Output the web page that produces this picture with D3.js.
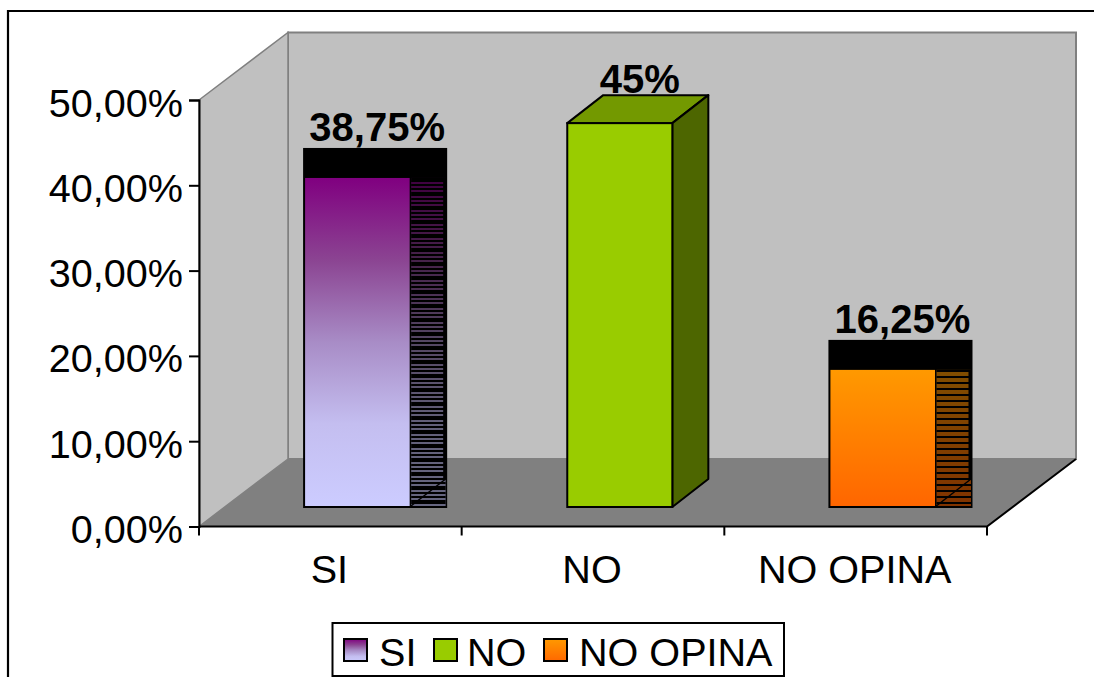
<!DOCTYPE html>
<html>
<head>
<meta charset="utf-8">
<script src="https://cdn.jsdelivr.net/npm/d3@7/dist/d3.min.js"></script>
<style>
  html, body { margin: 0; padding: 0; background: #fff; }
  svg { display: block; }
  text { font-family: "Liberation Sans", Arial, sans-serif; fill: #000; }
</style>
</head>
<body>
<svg id="chart" width="1094" height="677"></svg>
<script>
// Survey answers, in percent
const categories = ["SI", "NO", "NO OPINA"];
const values = [38.75, 45, 16.25];
const valueLabels = ["38,75%", "45%", "16,25%"];
const axisTicks = [0, 10, 20, 30, 40, 50];
const axisTickLabels = ["0,00%", "10,00%", "20,00%", "30,00%", "40,00%", "50,00%"];
const faceStops = [
  ["#800080", "#8B4492", "#A88CC6", "#C4BEF0", "#CCCCFF"],
  ["#99CC00", "#99CC00"],
  ["#FF9900", "#FF6600"]
];
const sideStops = [
  ["#400040", "#45224A", "#544663", "#625F78", "#666680"],
  ["#4D6600", "#4D6600"],
  ["#804D00", "#803300"]
];
const roofColor = ["#000000", "#739900", "#000000"];
const hatchedSide = [true, false, true];

const svg = d3.select("#chart");
const defs = svg.append("defs");

// Plot geometry: front plane of the 3D box plus its depth offset
const plot = { left: 199, right: 987, top: 100, bottom: 526.5, depthX: 89, depthY: 67.5 };
const barBase = 507;
const barDepthX = 36;
const barDepthY = 28;
const bodyFont = 39.6;
const boldFont = 40;

const y = d3.scaleLinear().domain([0, 50]).range([plot.bottom, plot.top]);
const x = d3.scaleBand().domain(categories).range([plot.left, plot.right]);
const barWidth = x.bandwidth() * 0.4;
const barLeft = c => x(c) + x.bandwidth() * 0.402;
const heightOf = v => y(0) - y(v);

// Gradients for the front faces and the side faces
function linearGradient(id, colors) {
  const g = defs.append("linearGradient").attr("id", id)
    .attr("x1", 0).attr("y1", 0).attr("x2", 0).attr("y2", 1);
  colors.forEach((col, k) => g.append("stop")
    .attr("offset", k / (colors.length - 1)).attr("stop-color", col));
}
categories.forEach((c, i) => {
  linearGradient("face" + i, faceStops[i]);
  linearGradient("side" + i, sideStops[i]);
});

// Horizontal black rules laid over the hatched side faces
function stripePattern(id, period, rows) {
  const p = defs.append("pattern").attr("id", id)
    .attr("patternUnits", "userSpaceOnUse").attr("width", 10).attr("height", period);
  rows.forEach(r => p.append("rect")
    .attr("x", 0).attr("y", r[0]).attr("width", 10).attr("height", r[1]).attr("fill", "#000"));
}
stripePattern("rules0", 14, [[2, 2], [6, 2], [10, 4]]);
stripePattern("rules2", 6, [[4, 2]]);

// Outer frame, open at the right and the bottom
svg.append("path")
  .attr("d", d3.line()([[1094, 11], [8, 11], [8, 677]]))
  .attr("fill", "none").attr("stroke", "#000").attr("stroke-width", 2.2);

// Walls and floor of the box
const wallBackLeft = plot.left + plot.depthX;
const wallBackRight = plot.right + plot.depthX;
const wallTop = plot.top - plot.depthY;
const wallBottom = plot.bottom - plot.depthY;
const box = svg.append("g");
box.append("rect")
  .attr("x", wallBackLeft).attr("y", wallTop)
  .attr("width", wallBackRight - wallBackLeft).attr("height", wallBottom - wallTop)
  .attr("fill", "#C0C0C0").attr("stroke", "#808080").attr("stroke-width", 2);
box.append("polygon")
  .attr("points", [[plot.left, plot.top], [wallBackLeft, wallTop], [wallBackLeft, wallBottom], [plot.left, plot.bottom]].join(" "))
  .attr("fill", "#C0C0C0").attr("stroke", "#808080").attr("stroke-width", 1.5);
box.append("polygon")
  .attr("points", [[plot.left, plot.bottom], [plot.right, plot.bottom], [wallBackRight, wallBottom], [wallBackLeft, wallBottom]].join(" "))
  .attr("fill", "#808080");
box.append("path")
  .attr("d", d3.line()([[plot.left, plot.bottom], [plot.right, plot.bottom], [wallBackRight, wallBottom]]))
  .attr("fill", "none").attr("stroke", "#000").attr("stroke-width", 2);

// Value axis
const yAxis = d3.axisLeft(y).tickValues(axisTicks)
  .tickFormat((d, i) => axisTickLabels[i]).tickSize(10).tickPadding(6);
const yG = svg.append("g").attr("transform", `translate(${plot.left},0)`).call(yAxis);
yG.select(".domain").attr("stroke", "#000").attr("stroke-width", 2);
yG.selectAll(".tick line").attr("stroke", "#000").attr("stroke-width", 2);
yG.selectAll(".tick text")
  .attr("font-size", bodyFont).attr("dy", 16)
  .style("font-family", '"Liberation Sans", Arial, sans-serif');

// Category axis: ticks sit between the bands, labels at their centres
const xLine = svg.append("g");
xLine.selectAll("line")
  .data([...categories.map(c => x(c)), plot.right])
  .join("line")
  .attr("x1", d => d).attr("x2", d => d)
  .attr("y1", plot.bottom).attr("y2", plot.bottom + 9)
  .attr("stroke", "#000").attr("stroke-width", 2);
xLine.selectAll("text")
  .data(categories)
  .join("text")
  .attr("x", c => x(c) + x.bandwidth() / 2 - 1)
  .attr("y", 583)
  .attr("text-anchor", "middle")
  .attr("font-size", bodyFont)
  .text(c => c);

// Bars
categories.forEach((c, i) => {
  const g = svg.append("g");
  const left = barLeft(c);
  const right = left + barWidth;
  const top = barBase - heightOf(values[i]);

  if (hatchedSide[i]) {
    // Black block behind the bar; the roof stays solid black
    const inner = top + 1.5;
    const innerHeight = barBase - 1 - inner;
    g.append("rect")
      .attr("x", left - 1.5).attr("y", top - barDepthY - 0.5)
      .attr("width", barWidth + barDepthX + 3).attr("height", barBase + 1 - (top - barDepthY - 0.5))
      .attr("fill", "#000");
    g.append("rect")
      .attr("x", right + 1.5).attr("y", inner)
      .attr("width", barDepthX - 1.5).attr("height", innerHeight)
      .attr("fill", `url(#side${i})`);
    g.append("rect")
      .attr("x", right + 1.5).attr("y", inner)
      .attr("width", barDepthX - 1.5).attr("height", innerHeight)
      .attr("fill", `url(#rules${i})`);
    g.append("rect")
      .attr("x", right + barDepthX - 2.5).attr("y", inner)
      .attr("width", 3).attr("height", barBase - barDepthY - inner)
      .attr("fill", "#000");
    g.append("line")
      .attr("x1", right).attr("y1", barBase)
      .attr("x2", right + barDepthX).attr("y2", barBase - barDepthY)
      .attr("stroke", "#000").attr("stroke-width", 1.5);
    g.append("rect")
      .attr("x", left + 0.5).attr("y", inner)
      .attr("width", barWidth - 0.5).attr("height", innerHeight)
      .attr("fill", `url(#face${i})`);
  } else {
    g.append("polygon")
      .attr("points", [[left, top], [left + barDepthX, top - barDepthY], [right + barDepthX, top - barDepthY], [right, top]].join(" "))
      .attr("fill", roofColor[i]).attr("stroke", "#000").attr("stroke-width", 2).attr("stroke-linejoin", "round");
    g.append("polygon")
      .attr("points", [[right, top], [right + barDepthX, top - barDepthY], [right + barDepthX, barBase - barDepthY], [right, barBase]].join(" "))
      .attr("fill", `url(#side${i})`).attr("stroke", "#000").attr("stroke-width", 2).attr("stroke-linejoin", "round");
    g.append("rect")
      .attr("x", left).attr("y", top)
      .attr("width", barWidth).attr("height", barBase - top)
      .attr("fill", `url(#face${i})`).attr("stroke", "#000").attr("stroke-width", 2);
  }

  svg.append("text")
    .attr("x", left + (barWidth + barDepthX) / 2 + 2)
    .attr("y", top - barDepthY - (hatchedSide[i] ? 7 : 2))
    .attr("text-anchor", "middle")
    .attr("font-size", boldFont)
    .attr("font-weight", "bold")
    .text(valueLabels[i]);
});

// Legend
const legend = svg.append("g");
legend.append("rect")
  .attr("x", 332.5).attr("y", 623).attr("width", 451.5).attr("height", 53)
  .attr("fill", "#fff").attr("stroke", "#000").attr("stroke-width", 2);
const legendSwatchX = d3.scaleOrdinal().domain(categories).range([344, 434, 544]);
const legendTextX = d3.scaleOrdinal().domain(categories).range([379, 467, 579]);
categories.forEach((c, i) => {
  const sx = legendSwatchX(c);
  legend.append("rect")
    .attr("x", sx).attr("y", 639).attr("width", 24).attr("height", 23)
    .attr("fill", `url(#face${i})`);
  legend.append("rect")
    .attr("x", sx).attr("y", 639).attr("width", 23).attr("height", 22)
    .attr("fill", "none").attr("stroke", "#000").attr("stroke-width", 2);
  legend.append("text")
    .attr("x", legendTextX(c)).attr("y", 666)
    .attr("font-size", bodyFont)
    .text(c);
});
</script>
</body>
</html>
